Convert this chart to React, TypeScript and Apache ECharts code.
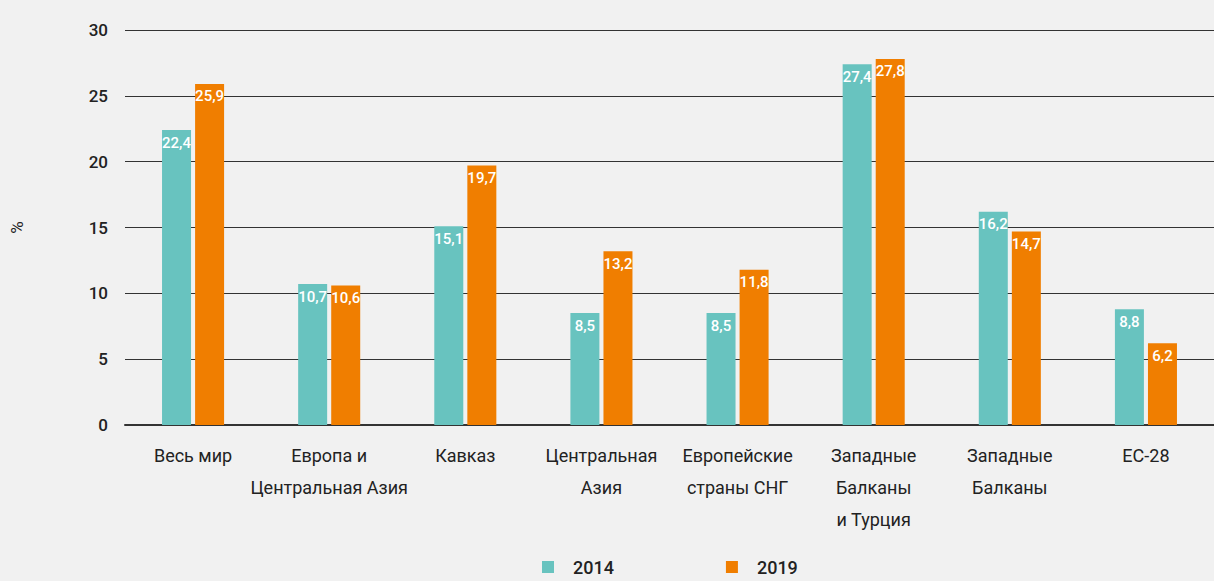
import React, { useEffect, useRef } from "react";
import * as echarts from "echarts";

const categories = [
  "Весь мир",
  "Европа и\nЦентральная Азия",
  "Кавказ",
  "Центральная\nАзия",
  "Европейские\nстраны СНГ",
  "Западные\nБалканы\nи Турция",
  "Западные\nБалканы",
  "ЕС-28",
];
const values2014 = [22.4, 10.7, 15.1, 8.5, 8.5, 27.4, 16.2, 8.8];
const values2019 = [25.9, 10.6, 19.7, 13.2, 11.8, 27.8, 14.7, 6.2];
const seriesNames = ["2014", "2019"];
const colors = ["#68C3BF", "#F07E00"];

const FONT = "Roboto, 'Noto Sans', sans-serif";

export default function App() {
  const ref = useRef<HTMLDivElement>(null);
  useEffect(() => {
    if (!ref.current) return;
    const chart = echarts.init(ref.current, null, { renderer: "svg" });
    const labelFmt = (p: any) => String(p.value).replace(".", ",");
    const mkSeries = (name: string, data: number[], color: string) => ({
      name,
      type: "bar",
      data,
      barWidth: 29,
      barGap: "14%",
      itemStyle: { color },
      label: {
        show: true,
        position: "insideTop",
        distance: 5,
        color: "#ffffff",
        fontFamily: FONT,
        fontSize: 15,
        fontWeight: 500,
        formatter: labelFmt,
      },
    });
    chart.setOption({
      animation: false,
      backgroundColor: "#F1F1F1",
      textStyle: { fontFamily: FONT },
      grid: { left: 125, right: 0, top: 30, bottom: 156, containLabel: false },
      legend: {
        bottom: 0,
        left: 537,
        itemWidth: 12,
        itemHeight: 12,
        itemGap: 112,
        icon: "rect",
        textStyle: { fontFamily: FONT, fontSize: 18, fontWeight: 500, color: "#222", padding: [0, 0, 0, 14] },
        data: seriesNames,
      },
      xAxis: {
        type: "category",
        data: categories,
        axisLine: { lineStyle: { color: "#333", width: 2 } },
        axisTick: { show: false },
        axisLabel: {
          fontFamily: FONT,
          fontSize: 18,
          color: "#222",
          lineHeight: 32,
          margin: 14,
          interval: 0,
        },
      },
      yAxis: {
        type: "value",
        min: 0,
        max: 30,
        interval: 5,
        name: "%",
        nameLocation: "middle",
        nameRotate: 90,
        nameGap: 100,
        nameTextStyle: { fontFamily: FONT, fontSize: 17, color: "#222" },
        axisLine: { show: false },
        axisTick: { show: false },
        axisLabel: { fontFamily: FONT, fontSize: 17, fontWeight: 500, color: "#222", margin: 17 },
        splitLine: { lineStyle: { color: "#333", width: 1 } },
      },
      series: [
        mkSeries(seriesNames[0], values2014, colors[0]),
        mkSeries(seriesNames[1], values2019, colors[1]),
      ],
    });
    return () => chart.dispose();
  }, []);
  return (
    <div
      ref={ref}
      style={{ position: "fixed", left: 0, top: 0, width: 1214, height: 581 }}
    />
  );
}
